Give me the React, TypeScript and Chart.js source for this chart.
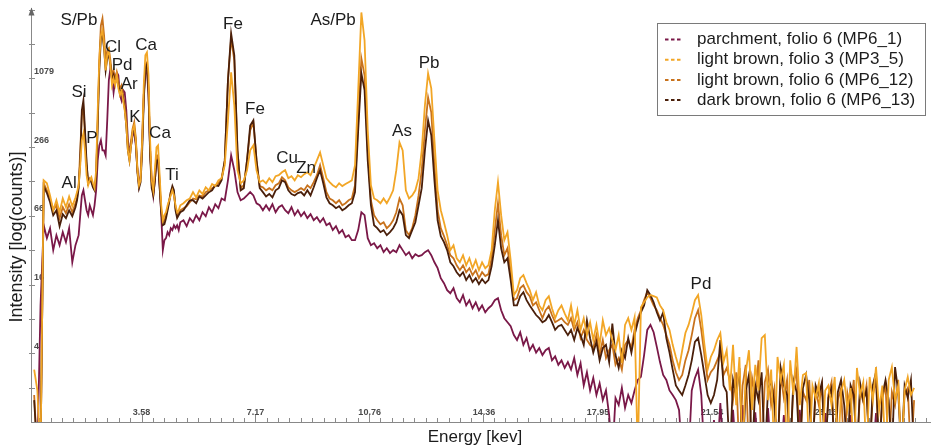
import React, { useEffect, useRef } from 'react';
import { Chart, registerables } from 'chart.js';

Chart.register(...registerables);

const FONT = "'Liberation Sans', Arial, Helvetica, sans-serif";

// Energy channels (keV)
const ENERGY_KEV = [
  0.2, 0.3, 0.4, 0.5, 0.6, 0.7, 0.8, 0.9, 1.0, 1.1, 1.2, 1.3, 1.4, 1.5,
  1.55, 1.6, 1.65, 1.7, 1.75, 1.8, 1.85, 1.9, 1.95, 2.0, 2.05, 2.1, 2.15, 2.2, 2.25, 2.3, 2.35, 2.4, 2.45, 2.5,
  2.55, 2.6, 2.65, 2.7, 2.75, 2.8, 2.85, 2.9, 2.95, 3.0, 3.05, 3.1, 3.15, 3.2, 3.25, 3.3, 3.35, 3.4, 3.45, 3.5,
  3.55, 3.6, 3.65, 3.7, 3.75, 3.8, 3.85, 3.9, 3.95, 4.0, 4.05, 4.1, 4.15, 4.2, 4.25, 4.3, 4.35, 4.4, 4.45, 4.5,
  4.55, 4.6, 4.65, 4.7, 4.75, 4.8,
  4.9, 5.0, 5.1, 5.2, 5.3, 5.4, 5.5, 5.6, 5.7, 5.8, 5.9, 6.0, 6.1, 6.2, 6.3, 6.4, 6.5, 6.6, 6.7, 6.8,
  6.9, 7.0, 7.1, 7.2, 7.3, 7.4, 7.5, 7.6, 7.7, 7.8, 7.9, 8.0, 8.1, 8.2, 8.3, 8.4, 8.5, 8.6, 8.7, 8.8,
  8.9, 9.0, 9.1, 9.2, 9.3, 9.4, 9.5, 9.6, 9.7, 9.8, 9.9, 10.0, 10.1, 10.2, 10.3, 10.4, 10.5, 10.6, 10.7, 10.8,
  10.9, 11.0, 11.1, 11.2, 11.3, 11.4, 11.5, 11.6, 11.7, 11.8, 11.9, 12.0, 12.1, 12.2, 12.3, 12.4, 12.5, 12.6, 12.7, 12.8,
  12.9, 13.0, 13.1, 13.2, 13.3, 13.4, 13.5, 13.6, 13.7, 13.8, 13.9, 14.0, 14.1, 14.2, 14.3, 14.4, 14.5, 14.6, 14.7, 14.8,
  14.9, 15.0, 15.1, 15.2, 15.3, 15.4, 15.5, 15.6, 15.7, 15.8, 15.9, 16.0, 16.1, 16.2, 16.3, 16.4, 16.5, 16.6, 16.7, 16.8,
  16.9, 17.0,
  17.1, 17.2, 17.3, 17.4, 17.5, 17.6, 17.7, 17.8, 17.9, 18.0, 18.1, 18.2, 18.3, 18.4, 18.5, 18.6, 18.7, 18.8, 18.9, 19.0,
  19.1, 19.2, 19.3, 19.4, 19.5, 19.6, 19.7, 19.8, 19.9, 20.0, 20.1, 20.2, 20.3, 20.4, 20.5, 20.6, 20.7, 20.8, 20.9, 21.0,
  21.1, 21.2, 21.3, 21.4, 21.5, 21.6, 21.7, 21.8, 21.9, 22.0,
  22.1, 22.2, 22.3, 22.4, 22.5, 22.6, 22.7, 22.8, 22.9, 23.0, 23.1, 23.2, 23.3, 23.4, 23.5, 23.6, 23.7, 23.8, 23.9, 24.0,
  24.1, 24.2, 24.3, 24.4, 24.5, 24.6, 24.7, 24.8, 24.9, 25.0, 25.1, 25.2, 25.3, 25.4, 25.5, 25.6, 25.7, 25.8, 25.9, 26.0,
  26.1, 26.2, 26.3, 26.4, 26.5, 26.6, 26.7, 26.8, 26.9, 27.0, 27.1, 27.2, 27.3, 27.4, 27.5, 27.6, 27.7, 27.8, 27.9,
];

// parchment, folio 6 (MP6_1)
const MP6_1 = [
  0.5, 0.5, 10.7, 54.6, 42, 51.4, 32.9, 44.6, 36.4, 47.4, 38.7, 51.4, 25.7, 36.4,
  40.3, 44.6, 67, 100, 111, 90.7, 74, 67, 81.9, 74, 67, 81.9, 111, 204, 277, 307, 250, 250, 226, 460,
  1040, 1324, 1150, 813, 1040, 1219, 1150, 770, 691, 850, 813, 564, 307, 250, 277, 340, 361, 277, 167, 123,
  151, 307, 770, 1219, 1270, 770, 250, 136, 100, 136, 204, 213, 123, 67, 32.9, 40.3, 42, 47.4, 44.6, 51.4,
  49.4, 54.6, 51.4, 54.6, 49.4, 58,
  60.4, 53.5, 63, 58, 67, 60.4, 71.1, 65.6, 78.7, 71.1, 83.6, 77.1, 94, 90.7, 136, 226, 167, 107, 90.7, 94,
  100, 107, 100, 85.3, 81.9, 74, 81.9, 74, 83.6, 71.1, 78.7, 81.9, 74, 69.7, 78.7, 67, 74, 65.6, 71.1, 63,
  68.3, 60.4, 64.3, 58, 63, 54.6, 56.9, 49.4, 53.5, 46.4, 49.4, 42.8, 44.6, 40.3, 40.3, 49.4, 71.1, 67, 42, 36.4,
  37.9, 34.2, 36.4, 31.6, 34.2, 31, 32.9, 31.6, 36.4, 32.9, 29.7, 31.6, 27.9, 30.3, 29.1, 29.7, 31.6, 32.9, 29.7, 25.7,
  22.8, 18.6, 16.8, 14.6, 13.7, 15.2, 12.4, 11.4, 13.2, 10.7, 11.9, 10.1, 11.4, 9.7, 10.7, 9.3, 10.1, 10.7, 11.9, 12.4,
  9.7, 8.25, 7.6, 7.0, 5.85, 5.3, 6.2, 4.8, 5.5, 4.3, 4.8, 4.1, 4.5, 3.9, 4.3, 4.5, 3.5, 3.8, 3.2, 3.5,
  3.0, 3.38,
  2.9, 3.67, 2.6, 3.3, 2.1, 2.75, 1.9, 2.45, 1.73, 2.2, 1.56, 1.9, 1.15, 0.5, 1.63, 1.41, 2.0, 1.33, 1.73, 1.47,
  1.9, 2.35, 2.5, 3.9, 6.5, 7.2, 6.2, 4.6, 3.38, 2.6, 2.35, 1.9, 1.73, 1.56, 1.28, 0.5, 0.5, 0.5, 1.9, 2.45,
  2.9, 1.73, 0.5, 0.5, 0.5, 1.04, 0.5, 1.47, 0.5, 0.5,
  0.5, 1.28, 0.5, 0.5, 1.41, 0.5, 0.5, 0.5, 1.22, 0.5, 0.5, 0.5, 1.33, 0.5, 0.5, 0.5, 0.5, 1.15, 0.5, 0.5,
  0.5, 0.5, 1.28, 0.5, 0.5, 0.5, 0.5, 0.5, 0.5, 0.5, 1.2, 0.5, 0.5, 0.5, 0.5, 0.5, 0.5, 0.5, 1.15, 0.5,
  0.5, 0.5, 0.5, 0.5, 0.5, 0.5, 1.2, 0.5, 0.5, 0.5, 0.5, 0.5, 0.5, 0.5, 0.5, 0.5, 0.5, 0.5, 0.5,
];

// light brown, folio 3 (MP3_5)
const MP3_5 = [
  2.9, 1.9, 0.5, 136, 128, 100, 74, 90.7, 71.1, 94, 78.7, 98, 80.3, 96,
  107, 123, 185, 307, 354, 250, 151, 123, 136, 145, 128, 116, 167, 564, 1556, 2590, 2863, 2110, 1270, 1730,
  1906, 1410, 940, 1079, 940, 1150, 881, 770, 850, 691, 564, 415, 250, 204, 277, 376, 415, 307, 167, 123,
  136, 307, 940, 1730, 1832, 1150, 307, 136, 111, 167, 266, 277, 151, 81.9, 60.4, 67, 71.1, 81.9, 90.7, 100,
  111, 100, 81.9, 71.1, 74, 81.9,
  85.3, 90.7, 94, 107, 96, 111, 103, 118, 111, 126, 121, 136, 142, 185, 460, 1219, 625, 167, 128, 136,
  167, 250, 277, 167, 131, 136, 128, 142, 131, 148, 151, 160, 167, 142, 148, 136, 151, 145, 154, 160,
  151, 174, 204, 240, 185, 142, 131, 123, 118, 128, 121, 126, 131, 136, 185, 850, 4127, 2337, 376, 123,
  94, 90.7, 85.3, 94, 85.3, 96, 111, 167, 294, 250, 111, 94, 100, 111, 142, 250, 625, 1195, 881, 307,
  111, 74, 58, 44.6, 32.9, 36.4, 27.9, 25.7, 29.7, 24.2, 27.9, 22.8, 26.8, 21.9, 25.7, 22.8, 24.2, 32.9, 74, 131,
  67, 40.3, 47.4, 26.8, 13.2, 14.6, 18.6, 19.8, 16.8, 14.6, 11.9, 14, 10.7, 9.7, 11.9, 12.9, 10.1, 8.25, 9.7, 10.7,
  9.1, 7.9,
  10.7, 7.2, 9.7, 6.5, 8.25, 5.85, 7.6, 5.3, 7.2, 4.8, 7.9, 5.85, 6.75, 5.3, 4.3, 5.85, 3.3, 7.2, 8.25, 6.5,
  8.4, 0.5, 10.3, 11.4, 12.6, 13.2, 12.9, 12.6, 10.7, 9.7, 7.6, 6.5, 4.8, 3.75, 3.0, 4.3, 6.1, 7.2, 9.1, 11.9,
  13.2, 8.8, 4.8, 2.9, 3.75, 4.3, 5.3, 6.1, 3.38, 4.3,
  1.9, 4.8, 1.41, 3.75, 0.5, 2.75, 4.3, 1.28, 3.2, 1.9, 5.5, 5.85, 1.56, 2.9, 0.5, 3.75, 2.35, 3.2, 0.5, 3.5,
  1.73, 4.6, 1.41, 2.6, 2.7, 0.5, 2.1, 1.63, 2.2, 0.5, 1.9, 2.1, 1.41, 2.5, 0.5, 1.84, 2.35, 1.28, 1.99, 0.5,
  3.0, 1.73, 2.25, 0.5, 2.5, 1.56, 3.05, 1.28, 2.1, 0.5, 2.35, 3.05, 1.56, 2.1, 0.5, 1.9, 2.5, 1.73, 2.0,
];

// light brown, folio 6 (MP6_12)
const MP6_12 = [
  1.73, 0.5, 0.5, 128, 111, 94, 74, 81.9, 63, 78.7, 69.7, 83.6, 71.1, 85.3,
  94, 123, 250, 510, 587, 340, 185, 131, 142, 136, 123, 116, 151, 460, 1556, 3170, 3652, 2590, 1556, 1906,
  1990, 1556, 1150, 1270, 1040, 1219, 995, 881, 940, 770, 625, 460, 277, 226, 307, 391, 442, 320, 174, 128,
  142, 277, 770, 1410, 1496, 881, 250, 123, 107, 151, 226, 226, 131, 74, 58, 60.4, 67, 77.1, 90.7, 107,
  116, 105, 77.1, 67, 69.7, 74,
  77.1, 80.3, 87.1, 94, 92.5, 100, 98, 107, 111, 116, 121, 128, 142, 204, 1040, 2434, 1556, 250, 116, 123,
  204, 376, 442, 204, 121, 118, 111, 116, 111, 123, 128, 145, 136, 118, 111, 107, 111, 116, 111, 123,
  116, 131, 151, 185, 142, 107, 94, 90.7, 85.3, 90.7, 81.9, 85.3, 90.7, 94, 123, 460, 1624, 1150, 250, 90.7,
  67, 60.4, 55.7, 58, 51.4, 54.6, 60.4, 71.1, 94, 81.9, 49.4, 44.6, 51.4, 67, 100, 167, 376, 735, 542, 185,
  74, 51.4, 43.7, 36.4, 29.7, 27.9, 24.2, 21.9, 24.2, 21, 22.8, 19.8, 21.9, 18.6, 21, 19.4, 20.2, 27.9, 49.4, 85.3,
  44.6, 29.7, 34.2, 21, 11.9, 12.4, 15.2, 16.1, 14, 12.9, 10.7, 11.4, 9.7, 8.25, 9.7, 10.5, 8.8, 7.6, 7.9, 8.25,
  7.6, 7.2,
  8.25, 6.5, 7.6, 5.5, 6.5, 5.3, 4.8, 4.5, 5.85, 3.9, 5.3, 3.67, 4.3, 4.8, 3.2, 3.67, 2.9, 4.8, 5.3, 4.5,
  6.5, 8.25, 9.7, 11.9, 14, 12.4, 10.7, 9.7, 8.25, 7.2, 5.85, 4.8, 3.5, 2.75, 2.35, 2.6, 3.5, 4.3, 5.85, 8.25,
  9.7, 6.5, 3.9, 2.35, 2.75, 3.0, 3.5, 4.1, 2.6, 3.0,
  2.35, 1.56, 2.75, 0.5, 2.1, 3.2, 0.5, 2.45, 1.73, 3.5, 0.5, 2.25, 2.9, 1.41, 1.99, 0.5, 2.6, 1.63, 2.35, 0.5,
  2.1, 2.9, 0.5, 1.84, 1.56, 2.35, 0.5, 1.9, 1.41, 2.1, 0.5, 1.73, 2.25, 0.5, 1.56, 2.0, 0.5, 1.8, 1.28, 2.35,
  0.5, 1.9, 1.5, 2.1, 0.5, 1.73, 2.35, 0.5, 1.63, 2.1, 0.5, 1.84, 1.41, 2.35, 0.5, 1.73, 1.99, 0.5, 1.56,
];

// dark brown, folio 6 (MP6_13)
const MP6_13 = [
  1.56, 0.5, 0.5, 121, 105, 87.1, 67, 74, 53.5, 68.3, 63, 74, 65.6, 78.7,
  90.7, 116, 204, 564, 691, 376, 196, 128, 136, 131, 118, 111, 142, 415, 1270, 2434, 2590, 1990, 1270, 1624,
  1730, 1410, 1040, 1150, 995, 1079, 940, 813, 850, 720, 587, 415, 250, 204, 277, 361, 391, 294, 160, 116,
  131, 250, 691, 1324, 1437, 813, 226, 116, 100, 136, 204, 204, 116, 71.1, 54.6, 55.7, 63, 74, 87.1, 107,
  121, 111, 74, 63, 67, 71.1,
  74, 81.9, 90.7, 90.7, 85.3, 98, 94, 100, 107, 111, 123, 121, 136, 204, 1040, 2693, 1730, 250, 111, 116,
  204, 415, 460, 204, 116, 107, 98, 103, 96, 111, 116, 136, 131, 111, 103, 100, 105, 107, 100, 111,
  100, 118, 142, 167, 128, 96, 85.3, 81.9, 77.1, 80.3, 74, 77.1, 81.9, 85.3, 107, 376, 1195, 850, 204, 81.9,
  54.6, 51.4, 47.4, 49.4, 44.6, 47.4, 51.4, 58, 74, 67, 44.6, 42, 49.4, 58, 81.9, 116, 250, 460, 340, 136,
  60.4, 43.7, 38.7, 32.9, 25.7, 23.7, 21, 19.4, 21, 17.9, 19.8, 17.2, 18.6, 16.5, 18.3, 16.8, 17.9, 23.7, 36.4, 60.4,
  34.2, 25.7, 27.9, 17.9, 10.7, 10.7, 12.9, 14, 11.9, 10.7, 9.7, 8.8, 8.25, 7.6, 7.9, 8.8, 7.6, 6.5, 7.0, 7.2,
  6.5, 5.85,
  6.5, 5.3, 6.75, 5.85, 4.8, 7.9, 5.5, 4.1, 5.1, 3.5, 4.5, 4.8, 3.38, 7.4, 3.9, 3.0, 4.3, 3.67, 5.5, 4.1,
  5.85, 7.6, 9.3, 10.7, 14.6, 13.2, 11.4, 9.3, 7.9, 9.3, 5.5, 4.1, 2.9, 2.1, 1.9, 1.73, 2.1, 2.6, 3.5, 5.1,
  5.5, 3.9, 2.6, 1.73, 1.47, 1.73, 2.35, 5.3, 2.1, 1.84,
  0.5, 2.35, 1.73, 3.0, 0.5, 1.9, 2.6, 0.5, 2.1, 1.56, 2.75, 0.5, 1.9, 2.35, 1.41, 0.5, 3.0, 2.1, 1.73, 0.5,
  2.35, 1.84, 0.5, 1.99, 2.6, 1.56, 0.5, 2.1, 1.73, 2.25, 0.5, 1.63, 1.99, 0.5, 1.84, 2.35, 1.41, 0.5, 2.1, 1.73,
  0.5, 2.2, 1.56, 1.9, 0.5, 2.1, 2.75, 0.5, 1.73, 2.35, 1.56, 0.5, 3.05, 1.84, 0.5, 2.1, 1.63, 2.35, 0.5,
];

const SERIES_LABELS = [
  'parchment, folio 6 (MP6_1)',
  'light brown, folio 3 (MP3_5)',
  'light brown, folio 6 (MP6_12)',
  'dark brown, folio 6 (MP6_13)',
];
const SERIES_COLORS = ['#7a1848', '#f2a626', '#c8721c', '#4a1f0a'];
const SERIES_ORDER = [3, 0, 2, 1];

const X_TICK_VALUES = [3.58, 7.17, 10.76, 14.36, 17.95, 21.54, 25.13];
const X_TICK_LABELS = ['3.58', '7.17', '10.76', '14.36', '17.95', '21.54', '25.13'];
const Y_TICK_VALUES = [4.04, 16.34, 66.07, 266.9, 1079];
const Y_TICK_LABELS = ['4', '16', '66', '266', '1079'];

const PEAK_LABELS = [
  { text: 'S/Pb', keV: 1.61, counts: 3500 },
  { text: 'Cl', keV: 2.68, counts: 2030 },
  { text: 'Pd', keV: 2.97, counts: 1410 },
  { text: 'Ar', keV: 3.19, counts: 960 },
  { text: 'K', keV: 3.37, counts: 489 },
  { text: 'Ca', keV: 3.72, counts: 2110 },
  { text: 'Ca', keV: 4.16, counts: 354 },
  { text: 'Si', keV: 1.61, counts: 813 },
  { text: 'P', keV: 2.02, counts: 320 },
  { text: 'Al', keV: 1.3, counts: 128 },
  { text: 'Ti', keV: 4.54, counts: 151 },
  { text: 'Fe', keV: 6.46, counts: 3230 },
  { text: 'Fe', keV: 7.15, counts: 575 },
  { text: 'Cu', keV: 8.16, counts: 213 },
  { text: 'Zn', keV: 8.76, counts: 174 },
  { text: 'As/Pb', keV: 9.61, counts: 3500 },
  { text: 'As', keV: 11.78, counts: 368 },
  { text: 'Pb', keV: 12.63, counts: 1465 },
  { text: 'Pd', keV: 21.19, counts: 16.5 },
];

const X_TITLE = 'Energy [kev]';
const Y_TITLE = 'Intensity [log(counts)]';

const decorPlugin = {
  id: 'xrfDecor',
  beforeDatasetsDraw(chart: any) {
    const { ctx, chartArea, scales } = chart;
    const xs = scales.x;
    const ys = scales.y;
    ctx.save();
    ctx.strokeStyle = '#8a8a8a';
    ctx.lineWidth = 1;
    const minorStep = X_TICK_VALUES[0] / 10;
    for (let k = 1; k * minorStep <= xs.max; k++) {
      const px = Math.round(xs.getPixelForValue(k * minorStep)) + 0.5;
      const len = k % 10 === 0 ? 7 : 4;
      ctx.beginPath();
      ctx.moveTo(px, chartArea.bottom);
      ctx.lineTo(px, chartArea.bottom - len);
      ctx.stroke();
    }
    const n = Y_TICK_VALUES.length;
    const majors = [1, ...Y_TICK_VALUES, Y_TICK_VALUES[n - 1] * (Y_TICK_VALUES[n - 1] / Y_TICK_VALUES[n - 2])];
    const yTicks: number[] = [];
    for (let i = 1; i < majors.length; i++) {
      yTicks.push(Math.sqrt(majors[i - 1] * majors[i]));
      yTicks.push(majors[i]);
    }
    yTicks.forEach((v) => {
      if (v > ys.max) return;
      const py = Math.round(ys.getPixelForValue(v)) + 0.5;
      ctx.beginPath();
      ctx.moveTo(chartArea.left - 2, py);
      ctx.lineTo(chartArea.left + 4, py);
      ctx.stroke();
    });
    ctx.restore();
  },
  afterDraw(chart: any) {
    const { ctx, chartArea, scales } = chart;
    const xs = scales.x;
    const ys = scales.y;
    ctx.save();
    // y axis arrow
    ctx.fillStyle = '#666';
    ctx.beginPath();
    ctx.moveTo(chartArea.left + 0.5, chartArea.top - 1);
    ctx.lineTo(chartArea.left - 2.5, chartArea.top + 7);
    ctx.lineTo(chartArea.left + 3.5, chartArea.top + 7);
    ctx.closePath();
    ctx.fill();

    // peak labels
    ctx.font = `17px ${FONT}`;
    ctx.fillStyle = '#1c1c1c';
    ctx.textAlign = 'center';
    ctx.textBaseline = 'middle';
    PEAK_LABELS.forEach((p) => {
      ctx.fillText(p.text, xs.getPixelForValue(p.keV), ys.getPixelForValue(p.counts));
    });

    // legend
    const lx = 657.5, ly = 23.5, lw = 268, lh = 92;
    ctx.fillStyle = '#ffffff';
    ctx.fillRect(lx, ly, lw, lh);
    ctx.strokeStyle = '#7a7a7a';
    ctx.lineWidth = 1;
    ctx.strokeRect(lx, ly, lw, lh);
    chart.data.datasets.forEach((ds: any, i: number) => {
      const cy = 39.5 + i * 20.2;
      ctx.save();
      ctx.strokeStyle = ds.borderColor;
      ctx.lineWidth = 2;
      ctx.setLineDash([3.5, 2.5]);
      ctx.beginPath();
      ctx.moveTo(665, cy);
      ctx.lineTo(680.5, cy);
      ctx.stroke();
      ctx.restore();
      ctx.fillStyle = '#1c1c1c';
      ctx.font = `17px ${FONT}`;
      ctx.textAlign = 'left';
      ctx.textBaseline = 'middle';
      ctx.fillText(ds.label, 697, cy);
    });

    // axis titles
    ctx.fillStyle = '#1c1c1c';
    ctx.textAlign = 'center';
    ctx.textBaseline = 'middle';
    ctx.font = `17px ${FONT}`;
    ctx.fillText(X_TITLE, 475, 437);
    ctx.save();
    ctx.translate(17, 237);
    ctx.rotate(-Math.PI / 2);
    ctx.font = `18px ${FONT}`;
    ctx.fillText(Y_TITLE, 0, 0);
    ctx.restore();
    ctx.restore();
  },
};

export default function App() {
  const canvasRef = useRef<HTMLCanvasElement | null>(null);

  useEffect(() => {
    if (!canvasRef.current) return;
    Chart.defaults.font.family = FONT;
    const seriesData = [MP6_1, MP3_5, MP6_12, MP6_13];
    const chart = new Chart(canvasRef.current, {
      type: 'line',
      data: {
        labels: ENERGY_KEV,
        datasets: seriesData.map((d, i) => ({
          label: SERIES_LABELS[i],
          data: d,
          borderColor: SERIES_COLORS[i],
          backgroundColor: SERIES_COLORS[i],
          borderWidth: 1.8,
          pointRadius: 0,
          pointHoverRadius: 0,
          tension: 0,
          fill: false,
          order: SERIES_ORDER[i],
        })),
      },
      options: {
        responsive: false,
        animation: false,
        devicePixelRatio: 1,
        events: [],
        layout: { padding: { top: 8, right: 2, left: 0, bottom: 0 } },
        plugins: {
          legend: { display: false },
          tooltip: { enabled: false },
        },
        scales: {
          x: {
            type: 'linear',
            min: 0.1,
            max: 28.4,
            grid: { display: false, drawTicks: false },
            border: { display: true, color: '#888', width: 1 },
            afterBuildTicks: (scale: any) => {
              scale.ticks = X_TICK_VALUES.map((v) => ({ value: v }));
            },
            afterFit: (scale: any) => {
              scale.height = 24;
            },
            ticks: {
              autoSkip: false,
              maxRotation: 0,
              mirror: true,
              padding: 4,
              color: '#4a4a4a',
              font: { size: 9, weight: 'bold', family: FONT },
              callback: (_v: any, i: number) => X_TICK_LABELS[i],
            },
          },
          y: {
            type: 'logarithmic',
            min: 1,
            max: 4480,
            grid: { display: false, drawTicks: false },
            border: { display: true, color: '#888', width: 1 },
            afterBuildTicks: (scale: any) => {
              scale.ticks = Y_TICK_VALUES.map((v) => ({ value: v }));
            },
            afterFit: (scale: any) => {
              scale.width = 31;
            },
            ticks: {
              mirror: true,
              padding: 3,
              labelOffset: -7,
              color: '#4a4a4a',
              font: { size: 9, weight: 'bold', family: FONT },
              callback: (_v: any, i: number) => Y_TICK_LABELS[i],
            },
          },
        },
      },
      plugins: [decorPlugin],
    } as any);
    return () => chart.destroy();
  }, []);

  return (
    <div style={{ position: 'absolute', left: 0, top: 0, width: 932, height: 446, background: '#fff' }}>
      <canvas ref={canvasRef} width={932} height={446} style={{ display: 'block' }} />
    </div>
  );
}
